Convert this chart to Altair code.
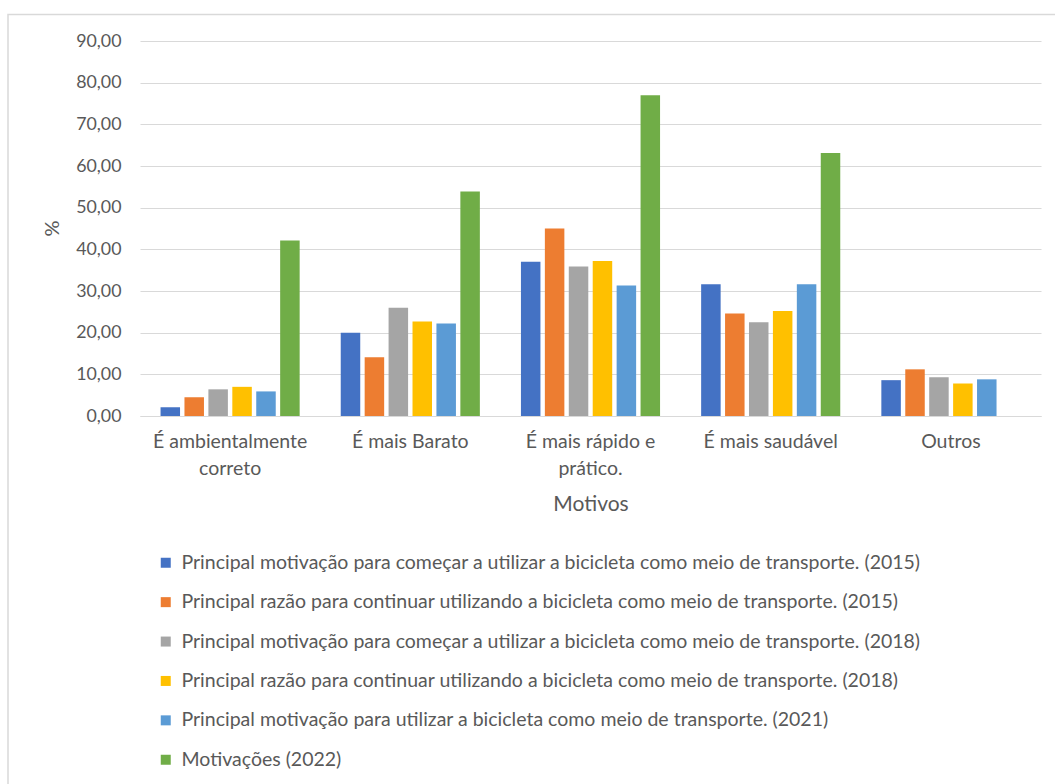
import altair as alt
import pandas as pd

# Reasons given for cycling, by survey edition (%)
categories = [
    "É ambientalmente correto",
    "É mais Barato",
    "É mais rápido e prático.",
    "É mais saudável",
    "Outros",
]

series = [
    "Principal motivação para começar a utilizar a bicicleta como meio de transporte. (2015)",
    "Principal razão para continuar utilizando a bicicleta como meio de transporte. (2015)",
    "Principal motivação para começar a utilizar a bicicleta como meio de transporte. (2018)",
    "Principal razão para continuar utilizando a bicicleta como meio de transporte. (2018)",
    "Principal motivação para utilizar a bicicleta como meio de transporte. (2021)",
    "Motivações (2022)",
]

comecar_2015 = [2.1, 20.0, 37.0, 31.6, 8.6]
continuar_2015 = [4.5, 14.1, 45.0, 24.6, 11.2]
comecar_2018 = [6.4, 26.0, 35.9, 22.5, 9.3]
continuar_2018 = [7.0, 22.7, 37.2, 25.2, 7.8]
utilizar_2021 = [5.9, 22.2, 31.3, 31.6, 8.8]
motivacoes_2022 = [42.1, 53.9, 77.0, 63.1, None]

colors = ["#4472C4", "#ED7D31", "#A5A5A5", "#FFC000", "#5B9BD5", "#70AD47"]

rows = []
for name, values in zip(
    series,
    [comecar_2015, continuar_2015, comecar_2018, continuar_2018, utilizar_2021, motivacoes_2022],
):
    for cat, v in zip(categories, values):
        if v is not None:
            rows.append({"Motivo": cat, "Série": name, "Valor": v})
df = pd.DataFrame(rows)

FONT = "Lato"
TEXT = "#595959"
GRID = "#d9d9d9"

wrap_expr = (
    "datum.value == 'É ambientalmente correto' ? ['É ambientalmente', 'correto'] : "
    "datum.value == 'É mais rápido e prático.' ? ['É mais rápido e', 'prático.'] : datum.value"
)

bars = alt.Chart(df).mark_bar().encode(
    x=alt.X(
        "Motivo:N",
        sort=categories,
        scale=alt.Scale(paddingInner=0.228, paddingOuter=0.114),
        axis=alt.Axis(
            title="Motivos",
            labelAngle=0,
            labelExpr=wrap_expr,
            labelFont=FONT,
            labelFontSize=19.5,
            labelColor=TEXT,
            labelLineHeight=27,
            labelPadding=16,
            labelBaseline="top",
            ticks=False,
            domainColor=GRID,
            domainWidth=1,
            titleFont=FONT,
            titleFontSize=21,
            titleFontWeight="normal",
            titleColor=TEXT,
            titlePadding=16,
        ),
    ),
    xOffset=alt.XOffset(
        "Série:N", sort=series, scale=alt.Scale(paddingInner=0.185, paddingOuter=0)
    ),
    y=alt.Y(
        "Valor:Q",
        scale=alt.Scale(domain=[0, 90], nice=False),
        axis=alt.Axis(
            values=list(range(0, 100, 10)),
            labelExpr="replace(format(datum.value, '.2f'), '.', ',')",
            labelFont=FONT,
            labelFontSize=17.8,
            labelColor=TEXT,
            labelPadding=19,
            ticks=False,
            domain=False,
            gridColor=GRID,
            gridWidth=1.2,
            title="%",
            titleFont=FONT,
            titleFontSize=20,
            titleFontWeight="normal",
            titleColor=TEXT,
            titleX=-78,
            titleY=187,
        ),
    ),
    color=alt.Color(
        "Série:N",
        sort=series,
        scale=alt.Scale(domain=series, range=colors),
        legend=alt.Legend(
            title=None,
            orient="none",
            legendX=16,
            legendY=512,
            direction="vertical",
            symbolType="square",
            symbolSize=100,
            symbolStrokeWidth=0,
            labelFont=FONT,
            labelFontSize=19.5,
            labelColor=TEXT,
            labelLimit=1000,
            labelOffset=6,
            rowPadding=18.4,
        ),
    ),
)

frame = alt.Chart(pd.DataFrame({"k": [0]})).mark_rect(
    fill=None, stroke=GRID, strokeWidth=1.5
).encode(
    x=alt.value(-132), x2=alt.value(1000), y=alt.value(-26.5), y2=alt.value(800)
)

chart = (
    alt.layer(frame, bars)
    .properties(
        width=901,
        height=375,
        autosize=alt.AutoSizeParams(type="none"),
        padding={"left": 140, "top": 41, "right": 14, "bottom": 368},
        background="white",
    )
    .configure_view(stroke=None)
)

chart.save("out.html", embed_options={"renderer": "svg", "actions": False})
